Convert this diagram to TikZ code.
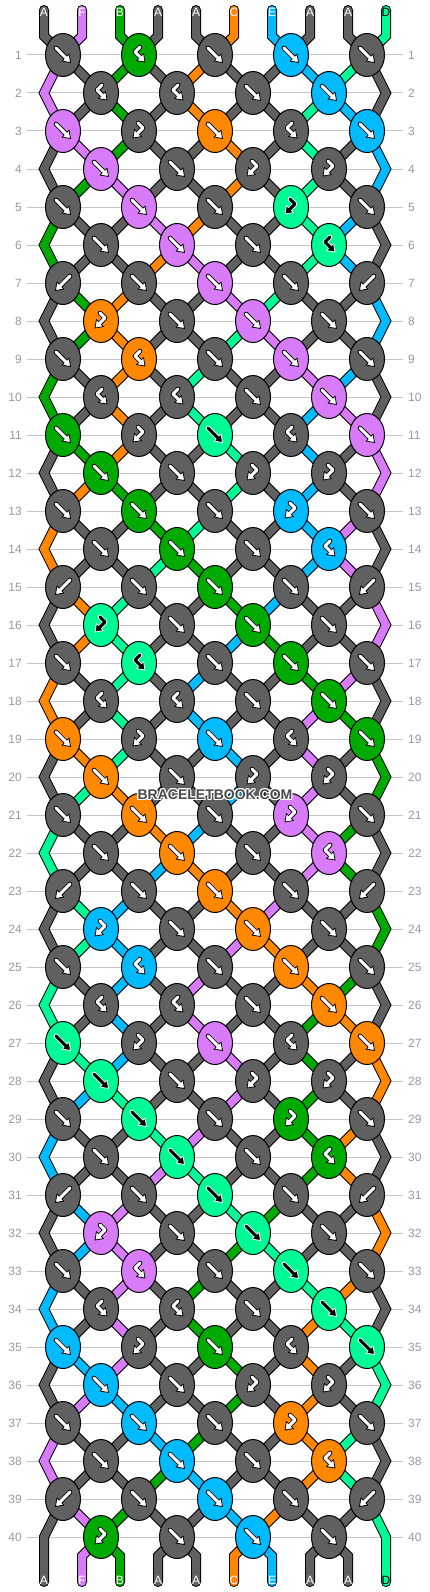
\documentclass[tikz,border=0pt]{standalone}
\usepackage{fontspec}
\setmainfont{Liberation Sans}
\usetikzlibrary{shapes.geometric}
\definecolor{cA}{HTML}{606060}
\definecolor{cB}{HTML}{00AA00}
\definecolor{cC}{HTML}{FF8800}
\definecolor{cD}{HTML}{00FA96}
\definecolor{cE}{HTML}{00BBFF}
\definecolor{cF}{HTML}{D77BF8}
\colorlet{gA}{white}\colorlet{gB}{white}\colorlet{gC}{white}
\colorlet{gD}{black}\colorlet{gE}{white}\colorlet{gF}{white}
\colorlet{oA}{black}\colorlet{oB}{black}\colorlet{oC}{black}
\colorlet{oD}{white}\colorlet{oE}{black}\colorlet{oF}{black}
\definecolor{rowgray}{HTML}{C4C4C4}
\definecolor{numgray}{HTML}{999999}
\definecolor{wmgray}{HTML}{4A4A4A}
\pgfdeclarelayer{lyback}\pgfdeclarelayer{lyrows}\pgfdeclarelayer{lystr}
\pgfsetlayers{lyback,lyrows,lystr,main}
\tikzset{
 knot/.style={ellipse, draw=black, line width=1pt, minimum width=35pt, minimum height=43pt, inner sep=0pt},
 str/.style={draw=black, line width=1pt, double=#1, double distance=8pt},
 rowline/.style={draw=rowgray, line width=1pt},
 num/.style={text=numgray, font=\fontsize{12}{12}\selectfont, inner sep=0pt},
 lbl/.style={font=\fontsize{12}{12}\selectfont, inner sep=0pt},
 wm/.style={font=\bfseries\fontsize{14}{14}\selectfont, inner sep=0pt},
}
\def\initS#1#2{\expandafter\xdef\csname S#1\endcsname{#2}\expandafter\xdef\csname C-0-#1\endcsname{#2}}
\initS{1}{A}\initS{2}{F}\initS{3}{B}\initS{4}{A}\initS{5}{A}
\initS{6}{C}\initS{7}{E}\initS{8}{A}\initS{9}{A}\initS{10}{D}
\newcommand\bsset[2]{\expandafter\xdef\csname S#1\endcsname{#2}}
\newcommand\bsget[1]{\csname S#1\endcsname}
\expandafter\def\csname ty1\endcsname{f,X,f,f,f}
\expandafter\def\csname ty2\endcsname{X,X,f,f}
\expandafter\def\csname ty3\endcsname{f,Y,f,X,f}
\expandafter\def\csname ty4\endcsname{f,f,Y,Y}
\expandafter\def\csname ty5\endcsname{f,f,f,Y,f}
\expandafter\def\csname ty6\endcsname{f,f,f,X}
\expandafter\def\csname ty7\endcsname{b,f,f,f,b}
\expandafter\def\csname ty0\endcsname{Y,f,f,f}
\newcommand\garrow[5]{%
  \draw[#2, line width=4.6pt, line join=round, line cap=round] #3;
  \begin{scope}[shift={#4}, rotate=#5]
    \filldraw[fill=#1, draw=#2, line width=0.8pt, line join=round] (0,0) -- (-7,5) -- (-7,-5) -- cycle;
  \end{scope}
  \draw[#1, line width=3pt, line join=round, line cap=round] #3;}
\newcommand\kglyph[4]{%
  \begin{scope}[shift={(#3,#4)}]
  \if f#1\garrow{g#2}{o#2}{(-7,-7) -- (2.8,2.8)}{(7.5,7.5)}{-45}\fi
  \if b#1\garrow{g#2}{o#2}{(7,-7) -- (-2.8,2.8)}{(-7.5,7.5)}{-135}\fi
  \if X#1\garrow{g#2}{o#2}{(1,-8) -- (-4,-3) -- (1.8,2.8)}{(6,7)}{-45}\fi
  \if Y#1\garrow{g#2}{o#2}{(-1,-8) -- (4,-3) -- (-1.8,2.8)}{(-6,7)}{-135}\fi
  \end{scope}}
\begin{document}
\begin{tikzpicture}[x=1pt,y=-1pt]
\useasboundingbox (0,0) rectangle (430,1592);
\begin{pgfonlayer}{lyback}
\fill[white] (0,0) rectangle (430,1592);
\end{pgfonlayer}
% row lines and numbers
\begin{pgfonlayer}{lyrows}
\foreach \r in {1,...,40} {
  \pgfmathtruncatemacro\yy{55+38*(\r-1)}
  \draw[rowline] (27,\yy) -- (403,\yy);
  \node[num, anchor=east] (nl-\r) at (22,\yy) {\r};
  \node[num, anchor=west] (nr-\r) at (408,\yy) {\r};
}
\end{pgfonlayer}
% knots (simulation)
\foreach \r in {1,...,40} {
  \pgfmathtruncatemacro\cls{mod(\r,8)}
  \edef\curty{\csname ty\cls\endcsname}
  \foreach \kt [count=\j] in \curty {
    \ifodd\r\relax
      \edef\lp{\the\numexpr2*\j-1\relax}\edef\kx{\the\numexpr63+76*(\j-1)\relax}
    \else
      \edef\lp{\the\numexpr2*\j\relax}\edef\kx{\the\numexpr101+76*(\j-1)\relax}
    \fi
    \edef\rp{\the\numexpr\lp+1\relax}
    \edef\ky{\the\numexpr55+38*(\r-1)\relax}
    \edef\lc{\bsget{\lp}}\edef\rc{\bsget{\rp}}
    \if f\kt \edef\kc{\lc}\bsset{\lp}{\rc}\bsset{\rp}{\lc}\fi
    \if b\kt \edef\kc{\rc}\bsset{\lp}{\rc}\bsset{\rp}{\lc}\fi
    \if X\kt \edef\kc{\lc}\fi
    \if Y\kt \edef\kc{\rc}\fi
    \edef\tmp{\noexpand\node[knot, fill=c\kc] (k-\r-\j) at (\kx,\ky) {};}\tmp
    \edef\tmp{\noexpand\kglyph{\kt}{\kc}{\kx}{\ky}}\tmp
  }
  \foreach \pp in {1,...,10} {\expandafter\xdef\csname C-\r-\pp\endcsname{\csname S\pp\endcsname}}
}
% strings
\begin{pgfonlayer}{lystr}
\foreach \i in {1,...,10} {
  \pgfmathtruncatemacro\xx{44+38*(\i-1)}
  \edef\jj{\the\numexpr\i/2\relax}
  \edef\ccol{c\csname C-0-\i\endcsname}
  \edef\tmp{\noexpand\draw[str=\ccol, line cap=round] (\xx,10) -- (\xx,36) -- (k-1-\jj.center);}\tmp
}
\foreach \r in {1,...,39} {
  \edef\rn{\the\numexpr\r+1\relax}
  \ifodd\r\relax
    \foreach \j in {1,...,5} {
      \ifnum\j>1\relax
        \edef\pp{\the\numexpr2*\j-1\relax}\edef\jn{\the\numexpr\j-1\relax}
        \edef\ccol{c\csname C-\r-\pp\endcsname}
        \edef\tmp{\noexpand\draw[str=\ccol] (k-\r-\j.center) -- (k-\rn-\jn.center);}\tmp
      \fi
      \ifnum\j<5\relax
        \edef\pp{\the\numexpr2*\j\relax}
        \edef\ccol{c\csname C-\r-\pp\endcsname}
        \edef\tmp{\noexpand\draw[str=\ccol] (k-\r-\j.center) -- (k-\rn-\j.center);}\tmp
      \fi
    }
  \else
    \foreach \j in {1,...,4} {
      \edef\pp{\the\numexpr2*\j\relax}
      \edef\ccol{c\csname C-\r-\pp\endcsname}
      \edef\tmp{\noexpand\draw[str=\ccol] (k-\r-\j.center) -- (k-\rn-\j.center);}\tmp
      \edef\pp{\the\numexpr2*\j+1\relax}\edef\jn{\the\numexpr\j+1\relax}
      \edef\ccol{c\csname C-\r-\pp\endcsname}
      \edef\tmp{\noexpand\draw[str=\ccol] (k-\r-\j.center) -- (k-\rn-\jn.center);}\tmp
    }
  \fi
}
\foreach \r in {2,4,...,40} {
  \edef\rpv{\the\numexpr\r-1\relax}\edef\rn{\the\numexpr\r+1\relax}
  \edef\yy{\the\numexpr55+38*(\r-1)\relax}
  \edef\colL{c\csname C-\rpv-1\endcsname}\edef\colR{c\csname C-\rpv-10\endcsname}
  \ifnum\r<40\relax
    \edef\tmp{\noexpand\draw[str=\colL] (k-\rpv-1.center) -- (44,\yy) -- (k-\rn-1.center);}\tmp
    \edef\tmp{\noexpand\draw[str=\colR] (k-\rpv-5.center) -- (386,\yy) -- (k-\rn-5.center);}\tmp
  \else
    \edef\tmp{\noexpand\draw[str=\colL, line cap=round] (k-\rpv-1.center) -- (44,\yy) -- (44,1582);}\tmp
    \edef\tmp{\noexpand\draw[str=\colR, line cap=round] (k-\rpv-5.center) -- (386,\yy) -- (386,1582);}\tmp
  \fi
}
\foreach \i in {2,...,9} {
  \pgfmathtruncatemacro\xx{44+38*(\i-1)}
  \edef\jj{\the\numexpr(\i-1)/2\relax}
  \edef\ccol{c\csname C-40-\i\endcsname}
  \edef\tmp{\noexpand\draw[str=\ccol, line cap=round] (k-40-\jj.center) -- (\xx,1556) -- (\xx,1582);}\tmp
}
\end{pgfonlayer}
% string labels
\foreach \i/\lab in {1/A,2/F,3/B,4/A,5/A,6/C,7/E,8/A,9/A,10/D} {
  \pgfmathtruncatemacro\xx{44+38*(\i-1)}
  \edef\tmp{\noexpand\node[lbl, text=g\lab] (lt-\i) at (\xx,12) {\lab};}\tmp
  \edef\tmp{\noexpand\node[lbl, text=g\lab] (lb-\i) at (\xx,1580) {\lab};}\tmp
}
% watermark
\foreach \dx/\dy [count=\h] in {-1/0,1/0,0/-1,0/1,-1/-1,1/1,-1/1,1/-1}
  \node[wm, text=white] (wmh-\h) at (215+\dx,795+\dy) {BRACELETBOOK.COM};
\node[wm, text=wmgray] (wm) at (215,795) {BRACELETBOOK.COM};
\end{tikzpicture}
\end{document}
